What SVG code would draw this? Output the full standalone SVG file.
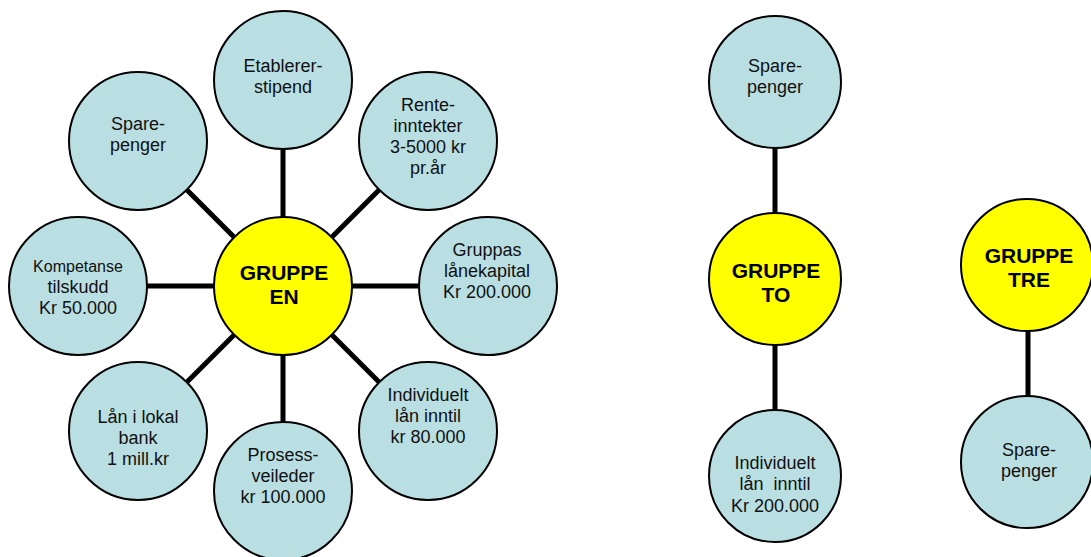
<svg xmlns="http://www.w3.org/2000/svg" width="1091" height="557" viewBox="0 0 1091 557">
  <style>
    .bg { fill: #ffffff; }
    .link { stroke: #000000; stroke-width: 5; fill: none; }
    .item { fill: #b9dfe3; stroke: #000000; stroke-width: 2; }
    .hub { fill: #ffff00; stroke: #000000; stroke-width: 2; }
    text { font-family: "Liberation Sans", Arial, sans-serif; text-anchor: middle; fill: #111111; white-space: pre; }
    .t { font-size: 18px; }
    .small { font-size: 16px; }
    .hubt { font-size: 21px; font-weight: bold; fill: #000000; }
  </style>
  <rect class="bg" x="0" y="0" width="1091" height="557"/>

  <!-- spokes -->
  <g id="connectors">
    <line class="link" x1="283" y1="286" x2="283" y2="80"/>
    <line class="link" x1="283" y1="286" x2="138" y2="141"/>
    <line class="link" x1="283" y1="286" x2="428" y2="141"/>
    <line class="link" x1="283" y1="286" x2="78" y2="286"/>
    <line class="link" x1="283" y1="286" x2="488" y2="286"/>
    <line class="link" x1="283" y1="286" x2="138" y2="431"/>
    <line class="link" x1="283" y1="286" x2="428" y2="431"/>
    <line class="link" x1="283" y1="286" x2="283" y2="491"/>
    <line class="link" x1="775" y1="82" x2="775" y2="476"/>
    <line class="link" x1="1028" y1="265" x2="1028" y2="462"/>
  </g>

  <!-- Gruppe en -->
  <g id="etablererstipend">
    <circle class="item" cx="283" cy="80" r="69"/>
    <text class="t" x="283" y="72">Etablerer-</text>
    <text class="t" x="283" y="93">stipend</text>
  </g>
  <g id="sparepenger-en">
    <circle class="item" cx="138" cy="141" r="69"/>
    <text class="t" x="138" y="130">Spare-</text>
    <text class="t" x="138" y="151">penger</text>
  </g>
  <g id="renteinntekter">
    <circle class="item" cx="428" cy="141" r="69"/>
    <text class="t" x="428" y="111">Rente-</text>
    <text class="t" x="428" y="132">inntekter</text>
    <text class="t" x="428" y="153">3-5000 kr</text>
    <text class="t" x="428" y="174">pr.år</text>
  </g>
  <g id="kompetansetilskudd">
    <circle class="item" cx="78" cy="286" r="69"/>
    <text class="small" x="78" y="272">Kompetanse</text>
    <text class="t" x="78" y="293">tilskudd</text>
    <text class="t" x="78" y="314">Kr 50.000</text>
  </g>
  <g id="lanekapital">
    <circle class="item" cx="488" cy="286" r="69"/>
    <text class="t" x="487" y="256">Gruppas</text>
    <text class="t" x="487" y="277">lånekapital</text>
    <text class="t" x="487" y="298">Kr 200.000</text>
  </g>
  <g id="lokalbank">
    <circle class="item" cx="138" cy="431" r="69"/>
    <text class="t" x="138" y="423">Lån i lokal</text>
    <text class="t" x="138" y="444">bank</text>
    <text class="t" x="138" y="465">1 mill.kr</text>
  </g>
  <g id="individuelt-en">
    <circle class="item" cx="428" cy="431" r="69"/>
    <text class="t" x="428" y="401">Individuelt</text>
    <text class="t" x="428" y="422">lån inntil</text>
    <text class="t" x="428" y="443">kr 80.000</text>
  </g>
  <g id="prosessveileder">
    <circle class="item" cx="283" cy="491" r="69"/>
    <text class="t" x="283" y="461">Prosess-</text>
    <text class="t" x="283" y="482">veileder</text>
    <text class="t" x="283" y="503">kr 100.000</text>
  </g>
  <g id="gruppe-en">
    <circle class="hub" cx="283" cy="286" r="69"/>
    <text class="hubt" x="284" y="280">GRUPPE</text>
    <text class="hubt" x="284" y="304">EN</text>
  </g>

  <!-- Gruppe to -->
  <g id="sparepenger-to">
    <circle class="item" cx="775" cy="82" r="66"/>
    <text class="t" x="775" y="72">Spare-</text>
    <text class="t" x="775" y="93">penger</text>
  </g>
  <g id="gruppe-to">
    <circle class="hub" cx="775" cy="279" r="66"/>
    <text class="hubt" x="776" y="278">GRUPPE</text>
    <text class="hubt" x="776" y="302">TO</text>
  </g>
  <g id="individuelt-to">
    <circle class="item" cx="775" cy="476" r="66"/>
    <text class="t" x="775" y="469">Individuelt</text>
    <text class="t" x="775" y="490">lån  inntil</text>
    <text class="t" x="775" y="512">Kr 200.000</text>
  </g>

  <!-- Gruppe tre -->
  <g id="gruppe-tre">
    <circle class="hub" cx="1027" cy="265" r="66"/>
    <text class="hubt" x="1029" y="263">GRUPPE</text>
    <text class="hubt" x="1029" y="287">TRE</text>
  </g>
  <g id="sparepenger-tre">
    <circle class="item" cx="1027" cy="462" r="66"/>
    <text class="t" x="1029" y="456">Spare-</text>
    <text class="t" x="1029" y="477">penger</text>
  </g>
</svg>
